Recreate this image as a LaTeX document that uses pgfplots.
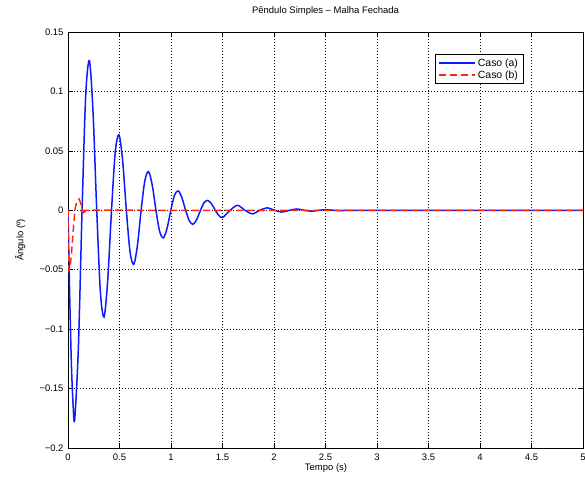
\documentclass[border=0pt]{standalone}
\usepackage{fontspec}
\setmainfont{Liberation Sans}
\usepackage{pgfplots}
\pgfplotsset{compat=1.18}
\definecolor{mblue}{rgb}{0.05,0.1,1}
\definecolor{mred}{rgb}{1,0.15,0.05}
\begin{document}
\begin{tikzpicture}
\begin{axis}[
 at={(0,0)}, anchor=south west,
 scale only axis, width=515bp, height=416bp,
 xmin=0, xmax=5, ymin=-0.2, ymax=0.15,
 xtick={0,0.5,1,1.5,2,2.5,3,3.5,4,4.5,5},
 ytick={-0.2,-0.15,-0.1,-0.05,0,0.05,0.1,0.15},
 xticklabels={0,0.5,1,1.5,2,2.5,3,3.5,4,4.5,5},
 yticklabels={−0.2,−0.15,−0.1,−0.05,0,0.05,0.1,0.15},
 tick align=inside, major tick length=5bp,
 tick style={black, line width=0.6bp},
 axis line style={black, line width=0.8bp},
 grid=major, major grid style={black, dash pattern=on 1bp off 2bp, line width=0.5bp},
 ticklabel style={font=\fontsize{9.5}{11}\selectfont},
 xticklabel style={yshift=-2bp},
 yticklabel style={xshift=-1bp},
 title={Pêndulo Simples – Malha Fechada},
 title style={font=\fontsize{9.5}{11}\selectfont, at={(axis description cs:0.5,1.036)}, anchor=center},
 xlabel={Tempo (s)},
 xlabel style={font=\fontsize{9.5}{11}\selectfont, at={(axis description cs:0.501,-0.048)}, anchor=center},
 ylabel={Ângulo (º)},
 ylabel style={font=\fontsize{9.5}{11}\selectfont, at={(axis description cs:-0.093,0.5)}, anchor=center, rotate=0},
 legend style={at={(axis description cs:0.7126,0.947)}, anchor=north west, draw=black, line width=0.8bp,
   font=\fontsize{10.5}{12}\selectfont, inner xsep=3bp, inner ysep=2bp, row sep=-1bp, cells={anchor=west}},
 legend image code/.code={\draw[#1, line width=1.5bp] (0bp,0bp) -- (36bp,0bp);},
]
\addplot[mblue, line width=1.5bp, smooth, tension=0.5] coordinates {
(0,0) (0.016,-0.07) (0.0325,-0.128) (0.049,-0.163) (0.065,-0.176)
(0.101,-0.1149) (0.1365,0) (0.172,0.0968) (0.208,0.1257)
(0.2435,0.0816) (0.279,0) (0.3145,-0.0688) (0.350,-0.0898)
(0.386,-0.0583) (0.4225,0) (0.459,0.0491) (0.495,0.0635)
(0.531,0.0412) (0.5665,0) (0.602,-0.0347) (0.638,-0.0455)
(0.674,-0.0295) (0.710,0) (0.746,0.0249) (0.782,0.0325)
(0.818,0.0211) (0.854,0) (0.890,-0.0178) (0.926,-0.0232)
(0.962,-0.0151) (0.998,0) (1.034,0.0127) (1.070,0.0163)
(1.106,0.0106) (1.142,0) (1.178,-0.0089) (1.214,-0.0118)
(1.250,-0.0077) (1.286,0) (1.322,0.0065) (1.358,0.0083)
(1.394,0.0054) (1.430,0) (1.466,-0.0045) (1.502,-0.0060)
(1.574,0) (1.646,0.0042) (1.718,0) (1.790,-0.0030) (1.862,0)
(1.934,0.0021) (2.006,0) (2.078,-0.0015) (2.150,0) (2.222,0.0011)
(2.294,0) (2.366,-0.0008) (2.438,0) (2.510,0.0005) (2.582,0)
(2.654,-0.0003) (2.726,0) (3.0,0) (4.0,0) (5.0,0)
};
\addlegendentry{Caso (a)}
\addplot[mred, line width=1.5bp, dash pattern=on 7bp off 4bp, smooth, tension=0.5] coordinates {
(0,0) (0.003,-0.035) (0.008,-0.05) (0.02,-0.047) (0.035,-0.035) (0.05,-0.018)
(0.068,0) (0.085,0.007) (0.107,0.0095) (0.125,0.005) (0.14,0) (0.152,-0.002)
(0.165,-0.001) (0.18,0) (1,0) (2,0) (3,0) (4,0) (5,0)
};
\addlegendentry{Caso (b)}
\end{axis}
\pgfresetboundingbox
\path[use as bounding box] (-68bp,-29bp) rectangle (517bp,448bp);
\end{tikzpicture}
\end{document}
